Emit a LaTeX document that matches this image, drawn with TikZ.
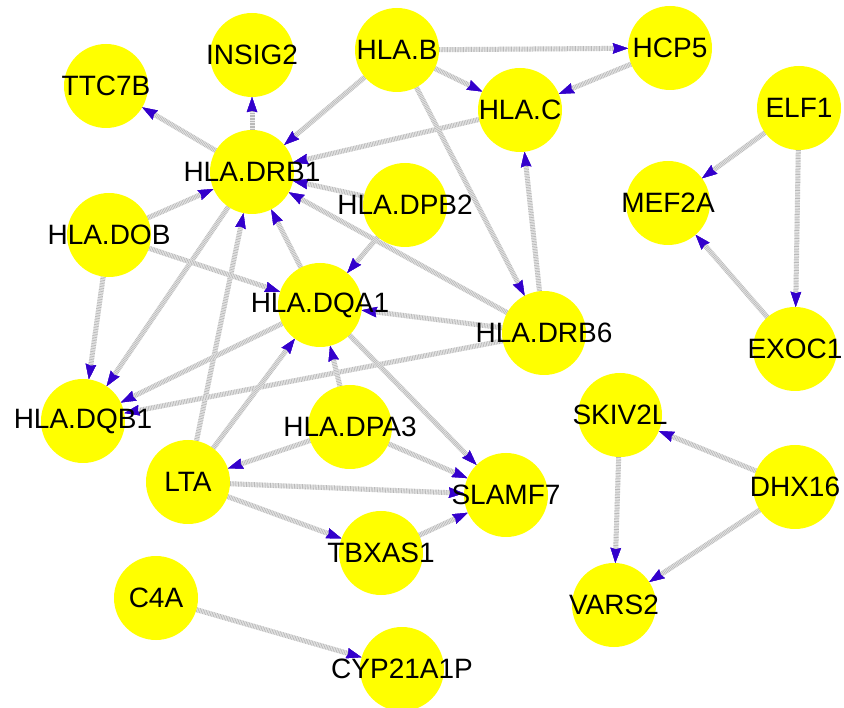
\documentclass[tikz,border=0pt]{standalone}
\usepackage{fontspec}
\setmainfont{Liberation Sans}
\usetikzlibrary{arrows.meta}
\pgfdeclarelayer{background}
\pgfsetlayers{background,main}
\definecolor{arrowblue}{HTML}{3300CC}
\definecolor{vtxyellow}{HTML}{FFFF00}
\begin{document}
\begin{tikzpicture}[x=1pt,y=-1pt,
  vtx/.style={circle, fill=vtxyellow, draw=none, minimum size=84pt, inner sep=0pt},
  lbl/.style={font=\fontsize{28pt}{30pt}\selectfont, text=black, inner sep=0pt},
  tip/.style={-{Stealth[length=15pt,width=10.5pt,inset=1.5pt,line width=0.01pt,color=arrowblue]}},
  edgebase/.style={tip, draw=gray!15, line width=5pt},
  edgehatch/.style={tip, draw=gray!55, line width=5pt, dash pattern=on 0.7pt off 0.9pt}]
\useasboundingbox (0,0) rectangle (844,708);

% vertices
\node[vtx, label={[lbl]center:INSIG2}]   (insig2) at (252,55)  {};
\node[vtx, label={[lbl]center:TTC7B}]    (ttc7b)  at (106,86)  {};
\node[vtx, label={[lbl]center:HLA.B}]    (hlab)   at (397,50)  {};
\node[vtx, label={[lbl]center:HCP5}]     (hcp5)   at (670,48)  {};
\node[vtx, label={[lbl]center:HLA.C}]    (hlac)   at (520,110) {};
\node[vtx, label={[lbl]center:ELF1}]     (elf1)   at (799,108) {};
\node[vtx, label={[lbl]center:MEF2A}]    (mef2a)  at (668,203) {};
\node[vtx, label={[lbl]center:EXOC1}]    (exoc1)  at (795,349) {};
\node[vtx, label={[lbl]center:HLA.DRB1}] (drb1)   at (252,172) {};
\node[vtx, label={[lbl]center:HLA.DPB2}] (dpb2)   at (405,205) {};
\node[vtx, label={[lbl]center:HLA.DOB}]  (dob)    at (109,235) {};
\node[vtx, label={[lbl]center:HLA.DQA1}] (dqa1)   at (320,305) {};
\node[vtx, label={[lbl]center:HLA.DRB6}] (drb6)   at (544,333) {};
\node[vtx, label={[lbl]center:HLA.DQB1}] (dqb1)   at (83,421)  {};
\node[vtx, label={[lbl]center:LTA}]      (lta)    at (188,482) {};
\node[vtx, label={[lbl]center:HLA.DPA3}] (dpa3)   at (350,427) {};
\node[vtx, label={[lbl]center:SLAMF7}]   (slamf7) at (506,495) {};
\node[vtx, label={[lbl]center:TBXAS1}]   (tbxas1) at (381,553) {};
\node[vtx, label={[lbl]center:SKIV2L}]   (skiv2l) at (620,415) {};
\node[vtx, label={[lbl]center:DHX16}]    (dhx16)  at (795,487) {};
\node[vtx, label={[lbl]center:VARS2}]    (vars2)  at (614,605) {};
\node[vtx, label={[lbl]center:C4A}]      (c4a)    at (156,598) {};
\node[vtx, label={[lbl]center:CYP21A1P}] (cyp)    at (402,669) {};

% directed edges, drawn beneath the vertices
\begin{pgfonlayer}{background}
\foreach \a/\b in {hlab/hcp5, hlab/hlac, hcp5/hlac, hlab/drb1, hlac/drb1,
    hlab/drb6, drb6/hlac, drb1/insig2, drb1/ttc7b, dpb2/drb1, drb6/drb1,
    dob/drb1, dqa1/drb1, lta/drb1, drb1/dqb1, dob/dqb1, dob/dqa1,
    dpb2/dqa1, drb6/dqa1, dqa1/dqb1, drb6/dqb1, lta/dqa1, dpa3/dqa1,
    dqa1/slamf7, dpa3/lta, dpa3/slamf7, lta/slamf7, lta/tbxas1,
    tbxas1/slamf7, c4a/cyp, elf1/mef2a, elf1/exoc1, exoc1/mef2a,
    dhx16/skiv2l, dhx16/vars2, skiv2l/vars2} {
  \draw[edgebase] (\a) -- (\b);
  \draw[edgehatch] (\a) -- (\b);
}
\end{pgfonlayer}
\end{tikzpicture}
\end{document}
